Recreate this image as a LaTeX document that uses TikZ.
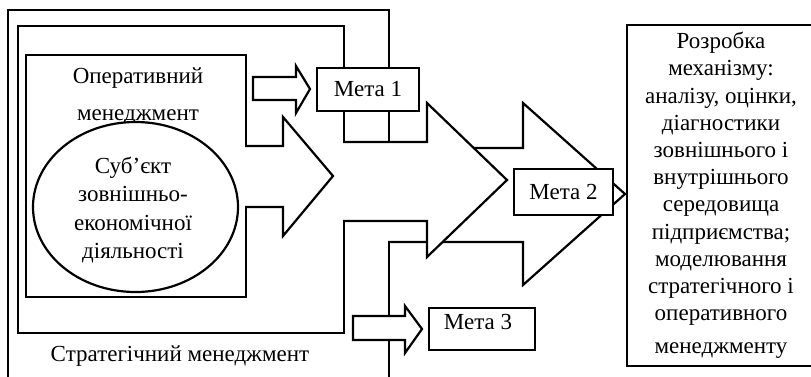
\documentclass[tikz,border=0pt]{standalone}
\usepackage{fontspec}
\setmainfont{Liberation Serif}
\usetikzlibrary{shapes.geometric}

\begin{document}
\begin{tikzpicture}[x=1pt,y=-1pt,
  line width=2.2pt, line join=miter,
  every node/.style={inner sep=0pt, outer sep=0pt},
  frame/.style={draw, fill=white, rectangle, anchor=north west},
  goal/.style={draw, fill=white, rectangle, font=\fontsize{23}{28}\selectfont},
  txt/.style={font=\fontsize{23}{28}\selectfont, align=center},
  blockarrow/.style={fill=white},
]
\useasboundingbox (0,0) rectangle (811,376);
\clip (0,0) rectangle (811,376);

% nested management frames
\node[frame, minimum width=381, minimum height=400] (strat) at (8,10) {};
\node[frame, minimum width=326, minimum height=307] (mid) at (18,26) {};
\node[frame, minimum width=220, minimum height=242] (oper) at (26,55) {};
\node[txt] (opertext) at (138,96) {Оперативний\\[9pt]менеджмент};
\node[txt] (strattext) at (180,356) {Стратегічний менеджмент};

% subject of foreign economic activity
\node[ellipse, draw, fill=white, minimum width=205, minimum height=170]
  (subj) at (135.5,207) {};
\node[txt, font=\fontsize{23}{28.5}\selectfont] (subjtext) at (133,210)
  {Суб’єкт\\зовнішньо-\\економічної\\діяльності};

% big block arrow out of the operative frame
\fill[white] (244,146) -- (283,146) -- (283,117) -- (333,176) -- (283,236) -- (283,207) -- (244,207) -- cycle;
\draw (245,146) -- (283,146) -- (283,117) -- (333,176) -- (283,236) -- (283,207) -- (245,207);

% block arrow out of the strategic frame
\fill[white] (387,148) -- (523,148) -- (523,103) -- (625,194) -- (523,285) -- (523,242) -- (387,242) -- cycle;
\draw (388,148) -- (523,148) -- (523,103) -- (625,194) -- (523,285) -- (523,242) -- (388,242);

% block arrow out of the middle frame
\fill[white] (342,142) -- (427,142) -- (427,103) -- (507,180) -- (427,257) -- (427,221) -- (342,221) -- cycle;
\draw (343,142) -- (427,142) -- (427,103) -- (507,180) -- (427,257) -- (427,221) -- (343,221);

% goals
\node[goal, minimum width=102, minimum height=43] (goal1) at (368,89.5) {Мета 1};
\node[goal, minimum width=99, minimum height=46] (goal2) at (563.5,192) {Мета 2};
\node[goal, minimum width=106, minimum height=42] (goal3) at (482,329) {};
\node[txt] (goal3text) at (478,322) {Мета 3};

% small block arrows towards goals 1 and 3
\draw[blockarrow] (253,77) -- (296,77) -- (296,66) -- (310,89) -- (296,113) -- (296,100) -- (253,100) -- cycle;
\draw[blockarrow] (353,316) -- (405,316) -- (405,306) -- (422,329) -- (405,353) -- (405,340) -- (353,340) -- cycle;

% result box
\node[frame, minimum width=188, minimum height=341, align=center,
  font=\fontsize{23}{27.2}\selectfont] (result) at (627,25)
  {Розробка\\механізму:\\аналізу, оцінки,\\діагностики\\зовнішнього і\\внутрішнього\\середовища\\підприємства;\\моделювання\\стратегічного і\\оперативного\\[6pt]менеджменту};
\end{tikzpicture}
\end{document}
